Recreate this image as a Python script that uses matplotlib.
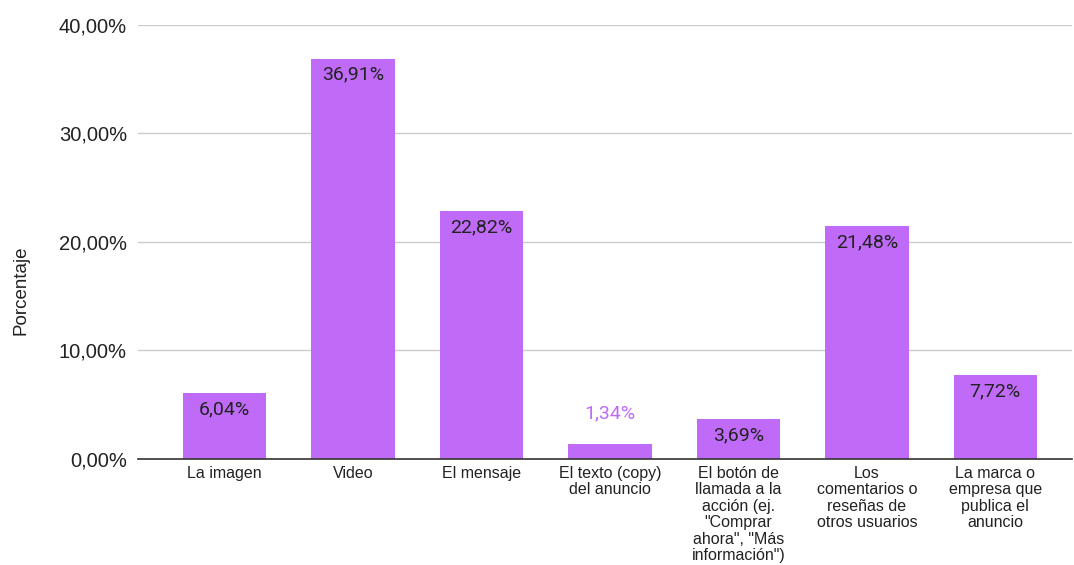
import matplotlib.pyplot as plt
from matplotlib.ticker import FuncFormatter

categorias = [
    "La imagen",
    "Video",
    "El mensaje",
    "El texto (copy)\ndel anuncio",
    "El botón de\nllamada a la\nacción (ej.\n\"Comprar\nahora\", \"Más\ninformación\")",
    "Los\ncomentarios o\nreseñas de\notros usuarios",
    "La marca o\nempresa que\npublica el\nanuncio",
]
porcentajes = [6.04, 36.91, 22.82, 1.34, 3.69, 21.48, 7.72]
yticks = [0, 10, 20, 30, 40]

color_barra = "#c06bf8"

fig = plt.figure(figsize=(10.74, 5.65), dpi=100)
ax = fig.add_axes([0.1285, 0.1876, 0.8695, 0.7682])

x = range(len(categorias))
barras = ax.bar(x, porcentajes, width=0.65, color=color_barra, zorder=3)

# etiquetas de valor
for i, v in enumerate(porcentajes):
    txt = f"{v:.2f}%".replace(".", ",")
    if v < 3:
        ax.annotate(txt, (i, v), xytext=(0, 16), textcoords="offset points",
                    ha="center", va="bottom", fontsize=14, color=color_barra,
                    family="Roboto")
    else:
        ax.annotate(txt, (i, v), xytext=(0, -5), textcoords="offset points",
                    ha="center", va="top", fontsize=14, color="#222222",
                    family="Roboto")

ax.set_xlim(-0.675, 6.596)
ax.set_ylim(0, 40)
ax.set_yticks(yticks)
ax.yaxis.set_major_formatter(FuncFormatter(lambda v, p: f"{v:.2f}%".replace(".", ",")))
ax.set_xticks(list(x))
ax.set_xticklabels(categorias, fontsize=11.5, family="Liberation Sans",
                   color="#222222", linespacing=1.12)
for lbl in ax.get_yticklabels():
    lbl.set_family("Liberation Sans")
    lbl.set_fontsize(14.5)
    lbl.set_color("#222222")

ax.tick_params(axis="both", length=0)
ax.tick_params(axis="x", pad=5)
ax.tick_params(axis="y", pad=8)
ax.grid(axis="y", color="#cccccc", linewidth=1, zorder=0)
for s in ["top", "right", "left"]:
    ax.spines[s].set_visible(False)
ax.spines["bottom"].set_color("#333333")
ax.spines["bottom"].set_linewidth(1.2)
ax.spines["bottom"].set_zorder(4)

fig.text(0.02, 0.487, "Porcentaje", rotation=90, va="center", ha="center",
         fontsize=13.5, family="Liberation Sans", color="#222222")

fig.savefig("out.png", dpi=100)
